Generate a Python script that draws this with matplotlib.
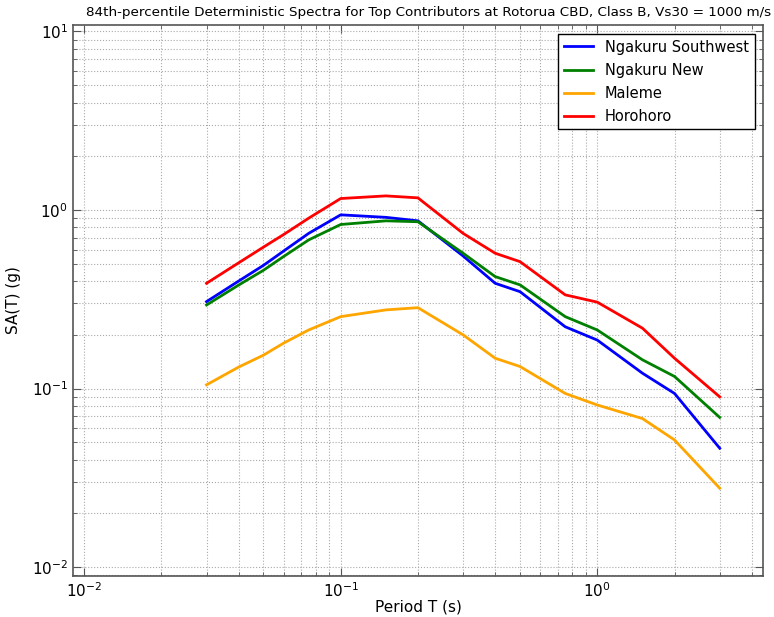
import matplotlib
matplotlib.use('Agg')
import matplotlib.pyplot as plt
from matplotlib.ticker import LogLocator, NullFormatter

# periods (s)
periods = [0.03, 0.04, 0.05, 0.06, 0.075, 0.1, 0.15, 0.2, 0.3, 0.4, 0.5, 0.75, 1.0, 1.5, 2.0, 3.0]

# 84th-percentile SA (g)
ngakuru_sw = [0.307, 0.40, 0.49, 0.59, 0.74, 0.94, 0.91, 0.87, 0.553, 0.389, 0.349, 0.222, 0.187, 0.122, 0.094, 0.0464]
ngakuru_new = [0.294, 0.38, 0.46, 0.55, 0.68, 0.83, 0.87, 0.86, 0.573, 0.424, 0.381, 0.253, 0.213, 0.145, 0.117, 0.069]
maleme = [0.105, 0.132, 0.154, 0.180, 0.213, 0.253, 0.276, 0.284, 0.200, 0.148, 0.133, 0.094, 0.081, 0.068, 0.0516, 0.0277]
horohoro = [0.389, 0.506, 0.62, 0.73, 0.90, 1.16, 1.20, 1.17, 0.74, 0.573, 0.514, 0.335, 0.305, 0.218, 0.148, 0.090]

series = [
    ('Ngakuru Southwest', ngakuru_sw, 'blue'),
    ('Ngakuru New', ngakuru_new, 'green'),
    ('Maleme', maleme, 'orange'),
    ('Horohoro', horohoro, 'red'),
]

fig = plt.figure(figsize=(7.74, 6.17), dpi=100)
ax = fig.add_axes([72.7 / 774, 1 - 576 / 617, 690.6 / 774, 551 / 617])

for name, vals, col in series:
    ax.plot(periods, vals, color=col, lw=2, label=name)

ax.set_xscale('log')
ax.set_yscale('log')
ax.set_xlim(10 ** -2.0444, 10 ** 0.647)
ax.set_ylim(10 ** -2.049, 10 ** 1.036)

for a in (ax.xaxis, ax.yaxis):
    a.set_minor_locator(LogLocator(base=10, subs=range(2, 10)))
    a.set_minor_formatter(NullFormatter())

ax.grid(True, which='both', linestyle=':', color='#aaaaaa', lw=0.8)
ax.tick_params(which='both', direction='in', top=True, right=True, labelsize=11,
               color='#555555')
ax.tick_params(which='major', length=6)
ax.tick_params(which='minor', length=3)
for s in ax.spines.values():
    s.set_color('#555555')
    s.set_linewidth(1.2)

ax.text(0.516, 1.010, '84th-percentile Deterministic Spectra for Top Contributors at Rotorua CBD, Class B, Vs30 = 1000 m/s',
        transform=ax.transAxes, ha='center', va='bottom', fontsize=9.7)
ax.set_xlabel('Period T (s)', fontsize=11, labelpad=0)
ax.set_ylabel('SA(T) (g)', fontsize=11, labelpad=8)

leg = ax.legend(loc='upper right', fontsize=10.5, fancybox=False, framealpha=1,
                edgecolor='black', borderaxespad=0.6, handlelength=2.0, labelspacing=0.55)
leg.get_frame().set_linewidth(1.0)

fig.savefig('out.png', dpi=100, facecolor='white')
